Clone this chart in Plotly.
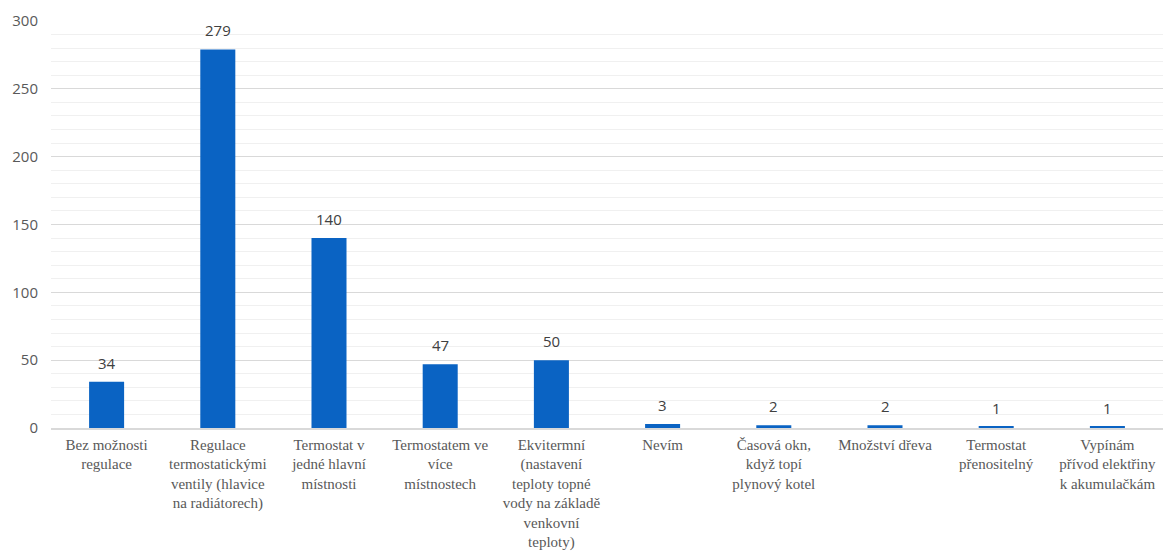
import plotly.graph_objects as go

categories = [
    "Bez možnosti<br>regulace",
    "Regulace<br>termostatickými<br>ventily (hlavice<br>na radiátorech)",
    "Termostat v<br>jedné hlavní<br>místnosti",
    "Termostatem ve<br>více<br>místnostech",
    "Ekvitermní<br>(nastavení<br>teploty topné<br>vody na základě<br>venkovní<br>teploty)",
    "Nevím",
    "Časová okn,<br>když topí<br>plynový kotel",
    "Množství dřeva",
    "Termostat<br>přenositelný",
    "Vypínám<br>přívod elektřiny<br>k akumulačkám",
]
values = [34, 279, 140, 47, 50, 3, 2, 2, 1, 1]
y_ticks = [0, 50, 100, 150, 200, 250, 300]

fig = go.Figure(go.Bar(
    x=categories,
    y=values,
    marker=dict(color="#0A63C3", line=dict(width=0)),
    cliponaxis=False,
))

for c, v in zip(categories, values):
    fig.add_annotation(
        x=c, y=v, text=str(v), showarrow=False, yanchor="bottom", yshift=7,
        font=dict(family="Open Sans", size=15, color="#404040"),
    )

fig.update_layout(
    width=1166, height=554,
    margin=dict(l=51, r=3, t=21, b=126),
    plot_bgcolor="white", paper_bgcolor="white",
    bargap=0.685,
    showlegend=False,
    xaxis=dict(
        showgrid=False, showline=True, linecolor="#D9D9D9", linewidth=1.5,
        tickfont=dict(family="Liberation Serif, serif", size=15, color="#595959"),
        ticks="", tickangle=0, automargin=False, ticklabelstandoff=2,
    ),
    yaxis=dict(
        range=[0, 300], tickvals=y_ticks, showline=False, zeroline=False,
        gridcolor="#D9D9D9", gridwidth=1, automargin=False,
        tickfont=dict(family="Open Sans", size=15, color="#595959"),
        ticks="", ticklabelstandoff=12,
        minor=dict(dtick=10, showgrid=True, gridcolor="#F0F0F0", gridwidth=1),
    ),
)

fig.write_html("out.html")
